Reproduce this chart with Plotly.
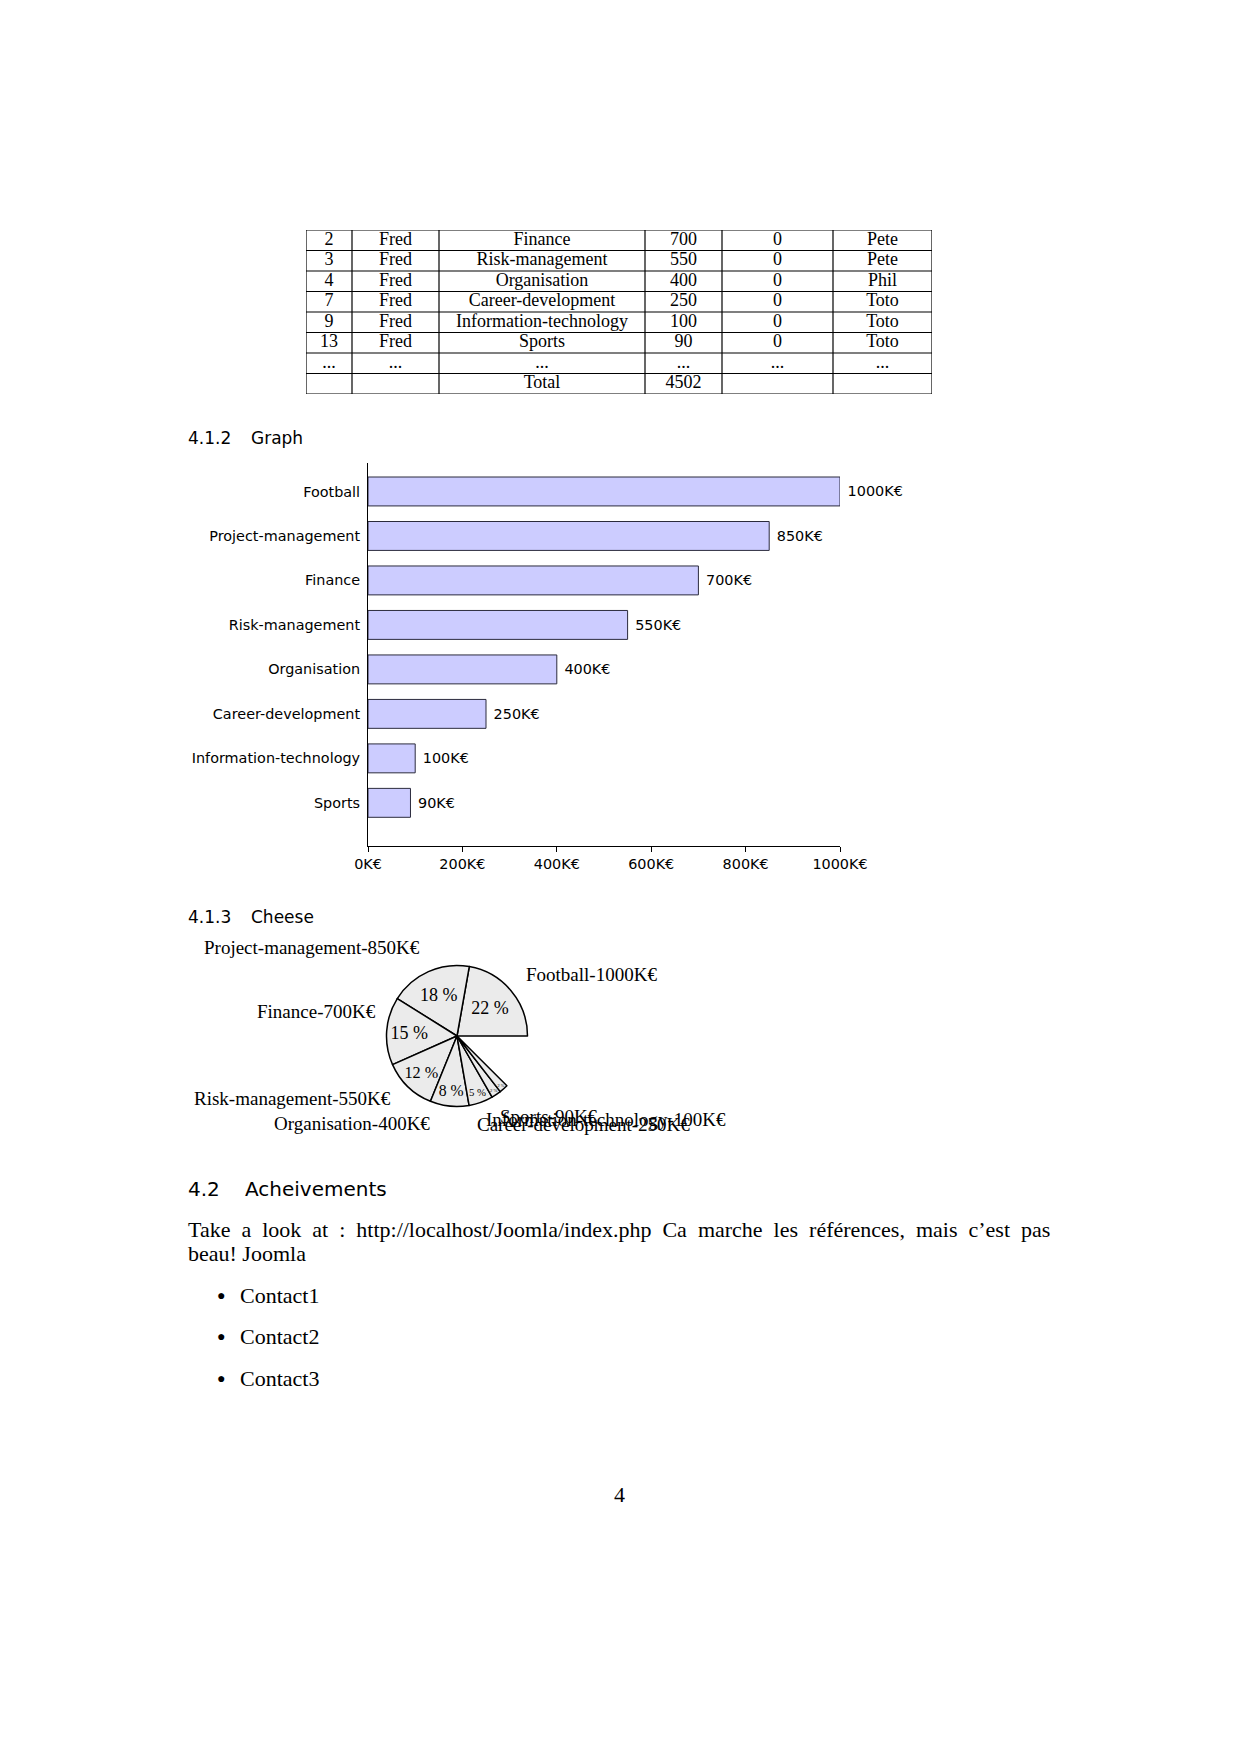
import plotly.graph_objects as go

W, H = 1240, 1754

# ---------------- data ----------------
table_ids = ["2", "3", "4", "7", "9", "13", "...", ""]
table_names = ["Fred", "Fred", "Fred", "Fred", "Fred", "Fred", "...", ""]
table_cats = ["Finance", "Risk-management", "Organisation", "Career-development",
              "Information-technology", "Sports", "...", "Total"]
table_amounts = ["700", "550", "400", "250", "100", "90", "...", "4502"]
table_zero = ["0", "0", "0", "0", "0", "0", "...", ""]
table_owner = ["Pete", "Pete", "Phil", "Toto", "Toto", "Toto", "...", ""]

categories = ["Football", "Project-management", "Finance", "Risk-management",
              "Organisation", "Career-development", "Information-technology", "Sports"]
values = [1000, 850, 700, 550, 400, 250, 100, 90]
total = 4502
pct_labels = ["22 %", "18 %", "15 %", "12 %", "8 %", "5 %", "2 %", "2 %"]
x_ticks = [0, 200, 400, 600, 800, 1000]

# layout (style) settings
col_widths = [46, 87, 206, 77, 111, 99]


def px(x):
    return x / W


def py(y):
    return 1 - y / H


SERIF = "Liberation Serif"
SANS = "DejaVu Sans"

fig = go.Figure()

# ---------------- table (drawn on its own hidden axes) ----------------
cols = [table_ids, table_names, table_cats, table_amounts, table_zero, table_owner]
n_rows = len(table_ids)
bounds = [0]
for w in col_widths:
    bounds.append(bounds[-1] + w)
line_x, line_y = [], []
for b in bounds:
    line_x += [b, b, None]
    line_y += [0, n_rows, None]
for r in range(n_rows + 1):
    line_x += [0, bounds[-1], None]
    line_y += [r, r, None]
fig.add_trace(go.Scatter(
    x=line_x, y=line_y, mode="lines", line=dict(color="black", width=1.2),
    xaxis="x3", yaxis="y3", hoverinfo="skip", showlegend=False, cliponaxis=False,
))
tx, ty, tt = [], [], []
for ci, col in enumerate(cols):
    for ri, v in enumerate(col):
        tx.append((bounds[ci] + bounds[ci + 1]) / 2)
        ty.append(ri + 0.5)
        tt.append(v)
fig.add_trace(go.Scatter(
    x=tx, y=ty, text=tt, mode="text",
    textfont=dict(family=SERIF, size=18, color="black"),
    xaxis="x3", yaxis="y3", hoverinfo="skip", showlegend=False, cliponaxis=False,
))

# ---------------- bar chart ----------------
fig.add_trace(go.Bar(
    x=values, y=categories, orientation="h", width=0.65,
    marker=dict(color="#ccccff", line=dict(color="#2b2b3d", width=1)),
    text=[f"\u00a0{v}K€" for v in values], textposition="outside",
    textfont=dict(family=SANS, size=14.4, color="black"),
    cliponaxis=False, hoverinfo="skip", showlegend=False,
    xaxis="x", yaxis="y",
))

# ---------------- pie ----------------
rest = total - sum(values)
fig.add_trace(go.Pie(
    values=[rest] + values, labels=["rest"] + categories,
    sort=False, direction="counterclockwise", rotation=90,
    marker=dict(colors=["rgba(0,0,0,0)"] + ["#ebebeb"] * len(values),
                line=dict(color=["rgba(0,0,0,0)"] + ["black"] * len(values),
                          width=[0] + [1.5] * len(values))),
    text=[""] + pct_labels, textinfo="text",
    textposition=["none"] + ["inside"] * len(values),
    insidetextorientation="horizontal",
    textfont=dict(family=SERIF, size=18, color="black"),
    domain=dict(x=[px(386.5), px(527.5)], y=[py(1106.5), py(965.5)]),
    showlegend=False, hoverinfo="skip", automargin=False,
))

# ---------------- annotations ----------------
ann = []


def add_text(x, y, s, size, family, anchor="left"):
    ann.append(dict(x=px(x), y=py(y), xref="paper", yref="paper", text=s,
                    showarrow=False, xanchor=anchor, yanchor="middle",
                    font=dict(family=family, size=size, color="black")))


add_text(186, 438, "4.1.2", 17, SANS)
add_text(249, 438, "Graph", 17, SANS)
add_text(186, 917, "4.1.3", 17, SANS)
add_text(249, 917, "Cheese", 17, SANS)
add_text(186, 1189, "4.2", 20, SANS)
add_text(243, 1189, "Acheivements", 20, SANS)

# pie outside labels
pie_label_pos = [
    (524, 974), (202, 948), (255, 1012), (192, 1098),
    (272, 1123), (475, 1124), (484, 1119), (498, 1116),
]
for (lx, ly), c, v in zip(pie_label_pos, categories, values):
    add_text(lx, ly, f"{c}-{v}K€", 19, SERIF)

line1 = "Take a look at : http://localhost/Joomla/index.php Ca marche les références, mais c’est pas"
add_text(186, 1229, line1.replace(" ", " \u2005"), 22, SERIF)
add_text(186, 1253, "beau! Joomla", 22, SERIF)
for yy, s in zip([1295, 1336, 1378], ["Contact1", "Contact2", "Contact3"]):
    add_text(215, yy, "●", 14, SERIF)
    add_text(238, yy, s, 22, SERIF)
add_text(619, 1494, "4", 22, SERIF, anchor="center")

fig.update_layout(
    width=W, height=H, autosize=False, margin=dict(l=0, r=0, t=0, b=0, pad=0),
    paper_bgcolor="white", plot_bgcolor="white",
    annotations=ann, showlegend=False,
    xaxis=dict(domain=[px(368), px(840)], range=[0, 1000], anchor="y",
               automargin=False,
               tickmode="array", tickvals=x_ticks,
               ticktext=[f"{t}K€" for t in x_ticks],
               showgrid=False, zeroline=False,
               showline=True, linecolor="black", linewidth=1,
               ticks="outside", ticklen=5, tickcolor="black",
               tickfont=dict(family=SANS, size=14.4, color="black")),
    yaxis=dict(domain=[py(846), py(463)], range=[-0.97, 7.64], anchor="x",
               automargin=False,
               categoryorder="array", categoryarray=categories[::-1],
               showgrid=False, zeroline=False, showline=True,
               linecolor="black", linewidth=1, ticks="", ticklabelstandoff=4,
               tickfont=dict(family=SANS, size=14.4, color="black")),
    xaxis3=dict(domain=[px(306), px(932)], range=[0, bounds[-1]], anchor="y3",
                visible=False, fixedrange=True, automargin=False),
    yaxis3=dict(domain=[py(394), py(230)], range=[n_rows, 0], anchor="x3",
                visible=False, fixedrange=True, automargin=False),
)

fig.write_html("out.html", config={"displayModeBar": False, "responsive": False},
               post_script="document.body.style.margin='0';")
